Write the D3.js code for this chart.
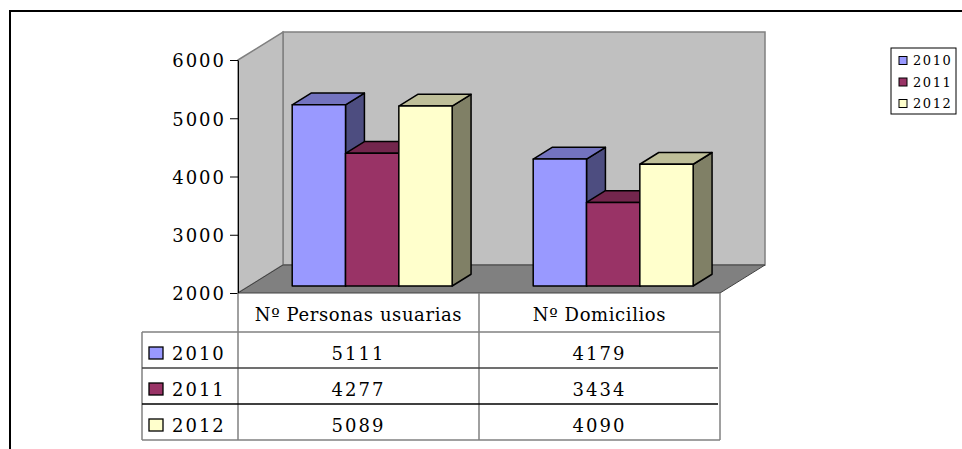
<!DOCTYPE html>
<html>
<head>
<meta charset="utf-8">
<script src="https://cdn.jsdelivr.net/npm/d3@7"></script>
<style>
  body { margin: 0; background: #fff; }
  text { font-family: "DejaVu Serif", serif; fill: #000; }
</style>
</head>
<body>
<svg id="chart"></svg>
<script>
// data
const categories = ["Nº Personas usuarias", "Nº Domicilios"];
const years = ["2010", "2011", "2012"];
const values2010 = [5111, 4179];
const values2011 = [4277, 3434];
const values2012 = [5089, 4090];
const yTicks = [2000, 3000, 4000, 5000, 6000];

const series = [values2010, values2011, values2012];
const colors = ["#9999ff", "#993366", "#ffffcc"];

const W = 962, H = 449;
const plot = { left: 238, right: 720, top: 60, bottom: 293 };
const depth = { dx: 45, dy: -28 };
const barZ0 = 0.25, barZ1 = 0.67;
const fs = 18;

const svg = d3.select("#chart").attr("width", W).attr("height", H);

// project front-plane point to a depth z (0 = front, 1 = back wall)
const P = (x, y, z) => [x + z * depth.dx, y + z * depth.dy];
const poly = (pts) => "M" + pts.map(p => p.join(",")).join("L") + "Z";

const y = d3.scaleLinear().domain([2000, 6000]).range([plot.bottom, plot.top]);
const x0 = d3.scaleBand().domain(categories).range([plot.left, plot.right]);
const x1 = d3.scaleBand().domain(years).range([0, x0.bandwidth()])
  .paddingInner(0).paddingOuter(0.76).align(0.53);

// outer frame
svg.append("path")
  .attr("d", `M10,${H}V11H${W}`)
  .attr("fill", "none").attr("stroke", "#000").attr("stroke-width", 2);

// walls and floor
const L = plot.left, R = plot.right, T = plot.top, B = plot.bottom;
svg.append("path")
  .attr("d", poly([P(L, T, 1), P(R, T, 1), P(R, B, 1), P(L, B, 1)]))
  .attr("fill", "#c0c0c0").attr("stroke", "#808080").attr("stroke-width", 1.5);
svg.append("path")
  .attr("d", poly([P(L, T, 0), P(L, T, 1), P(L, B, 1), P(L, B, 0)]))
  .attr("fill", "#c0c0c0").attr("stroke", "#808080").attr("stroke-width", 1.5);
svg.append("path")
  .attr("d", poly([P(L, B, 0), P(L, B, 1), P(R, B, 1), P(R, B, 0)]))
  .attr("fill", "#808080").attr("stroke", "#404040").attr("stroke-width", 1);

// bars
const shade = (c, k) => { const r = d3.rgb(c); return d3.rgb(r.r * k, r.g * k, r.b * k).formatHex(); };
categories.forEach((cat, ci) => {
  years.forEach((yr, si) => {
    const v = series[si][ci];
    const xa = x0(cat) + x1(yr), xb = xa + x1.bandwidth();
    const yt = y(v), yb = y(2000);
    const g = svg.append("g").attr("stroke", "#000").attr("stroke-width", 1.5).attr("stroke-linejoin", "round");
    g.append("path")
      .attr("d", poly([P(xb, yt, barZ0), P(xb, yt, barZ1), P(xb, yb, barZ1), P(xb, yb, barZ0)]))
      .attr("fill", shade(colors[si], 0.5));
    g.append("path")
      .attr("d", poly([P(xa, yt, barZ0), P(xa, yt, barZ1), P(xb, yt, barZ1), P(xb, yt, barZ0)]))
      .attr("fill", shade(colors[si], 0.75));
    g.append("path")
      .attr("d", poly([P(xa, yt, barZ0), P(xb, yt, barZ0), P(xb, yb, barZ0), P(xa, yb, barZ0)]))
      .attr("fill", colors[si]);
  });
});

// y axis
const yAxis = svg.append("g")
  .attr("transform", `translate(${plot.left},0)`)
  .call(d3.axisLeft(y).tickValues(yTicks).tickSize(8).tickSizeOuter(0).tickPadding(4).tickFormat(d3.format("d")));
yAxis.select(".domain").attr("stroke", "#000");
yAxis.selectAll("text").attr("font-family", "DejaVu Serif").attr("font-size", fs).attr("letter-spacing", 2).attr("dy", "0.38em");

// data table
const headH = 39, rowH = 36;
const tLeft = 142;
const rowY = (i) => plot.bottom + headH + i * rowH;
const tBottom = rowY(years.length);
const table = svg.append("g");
const colEdges = [plot.left, x0(categories[1]), plot.right];
colEdges.forEach(cx => {
  table.append("line").attr("x1", cx).attr("x2", cx).attr("y1", plot.bottom).attr("y2", tBottom)
    .attr("stroke", "#808080").attr("stroke-width", 1.5);
});
table.append("line").attr("x1", tLeft).attr("x2", tLeft).attr("y1", rowY(0)).attr("y2", tBottom)
  .attr("stroke", "#808080").attr("stroke-width", 1.5);
[0, years.length].forEach(i => {
  table.append("line").attr("x1", tLeft).attr("x2", plot.right).attr("y1", rowY(i)).attr("y2", rowY(i))
    .attr("stroke", "#808080").attr("stroke-width", 1.5);
});
d3.range(1, years.length).forEach(i => {
  table.append("line").attr("x1", tLeft).attr("x2", plot.right - 2).attr("y1", rowY(i)).attr("y2", rowY(i))
    .attr("stroke", i === 1 ? "#404040" : "#000").attr("stroke-width", 1.3);
});
categories.forEach(cat => {
  table.append("text")
    .attr("x", x0(cat) + x0.bandwidth() / 2).attr("y", plot.bottom + 28)
    .attr("text-anchor", "middle").attr("font-size", fs).attr("letter-spacing", 0.6)
    .text(cat);
});
years.forEach((yr, si) => {
  table.append("rect")
    .attr("x", 149).attr("y", rowY(si) + 15).attr("width", 14).attr("height", 12)
    .attr("fill", colors[si]).attr("stroke", "#000").attr("stroke-width", 1.3);
  table.append("text")
    .attr("x", 172).attr("y", rowY(si) + 28)
    .attr("font-size", fs).attr("letter-spacing", 2)
    .text(yr);
  categories.forEach((cat, ci) => {
    table.append("text")
      .attr("x", x0(cat) + x0.bandwidth() / 2).attr("y", rowY(si) + 28)
      .attr("text-anchor", "middle").attr("font-size", fs).attr("letter-spacing", 2)
      .text(series[si][ci]);
  });
});

// legend
const legend = svg.append("g").attr("transform", "translate(891,48)");
legend.append("rect").attr("width", 65).attr("height", 66)
  .attr("fill", "#fff").attr("stroke", "#000").attr("stroke-width", 1);
years.forEach((yr, i) => {
  const cy = 12.5 + i * 21.5;
  legend.append("rect").attr("x", 8).attr("y", cy - 4).attr("width", 8).attr("height", 8)
    .attr("fill", colors[i]).attr("stroke", "#000").attr("stroke-width", 1);
  legend.append("text").attr("x", 22).attr("y", cy + 4.5)
    .attr("font-family", "Liberation Serif").attr("font-size", 13).attr("letter-spacing", 1.6)
    .text(yr);
});
</script>
</body>
</html>
